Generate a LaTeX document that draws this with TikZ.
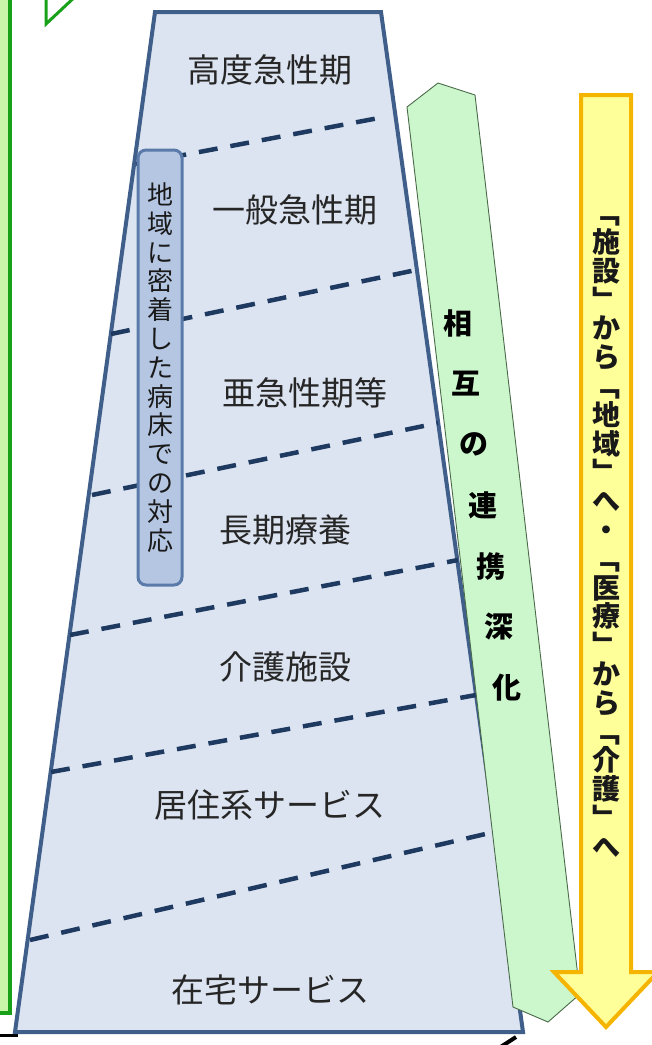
\documentclass[tikz,border=0pt]{standalone}
\usepackage{fontspec}
\setmainfont{Noto Sans CJK JP}
\definecolor{trapfill}{HTML}{DCE4F1}
\definecolor{trapline}{HTML}{3F5F8A}
\definecolor{navy}{HTML}{1F3A60}
\definecolor{rectfill}{HTML}{B4C6E2}
\definecolor{rectline}{HTML}{5A7BAA}
\definecolor{gfill}{HTML}{CCF7CC}
\definecolor{gline}{HTML}{4A6A4A}
\definecolor{yfill}{HTML}{FFFF99}
\definecolor{yline}{HTML}{F5B400}
\definecolor{lgreen}{HTML}{19A019}
\definecolor{lgfill}{HTML}{C8F5A8}
\begin{document}
\begin{tikzpicture}[x=1pt,y=-1pt,
  lvl/.style={font=\fontsize{33}{36}\selectfont, text=black!85, inner sep=0pt},
  sep/.style={draw=navy, line width=4.5pt, dash pattern=on 19pt off 13pt},
  vtext/.style={align=center, inner sep=0pt, text=black!90},
  gtext/.style={font=\bfseries\fontsize{29}{30}\selectfont, inner sep=0pt, text=black},
]
\useasboundingbox (0,0) rectangle (652,1045);
% left partial green box
\draw[lgreen, fill=lgfill, line width=3.5pt] (-10,-10) rectangle (10,1013);
% top green triangle fragment
\draw[lgreen, line width=3pt, line join=miter] (46,-6) -- (46,24) -- (78,-6);
% bottom black lines
\draw[black, line width=3pt] (0,1035) -- (18,1035);
\draw[black, line width=4pt] (499,1048) -- (516,1037);
% trapezoid
\coordinate (tl) at (155,12);
\coordinate (tr) at (381,12);
\coordinate (br) at (523,1032);
\coordinate (bl) at (15,1032);
\draw[trapline, fill=trapfill, line width=4pt, line join=miter] (tl) -- (tr) -- (br) -- (bl) -- cycle;
% dashed separators
\draw[sep] (136,164) -- (384,117);
\draw[sep] (111,334) -- (416,270);
\draw[sep] (92,495) -- (438,423);
\draw[sep] (70,635) -- (458,560);
\draw[sep] (51,772) -- (476,695);
\draw[sep] (30,940) -- (494,832);
% level labels
\node[lvl] (l1) at (270,70) {高度急性期};
\node[lvl] (l2) at (295,210) {一般急性期};
\node[lvl] (l3) at (305,393) {亜急性期等};
\node[lvl] (l4) at (285,530) {長期療養};
\node[lvl] (l5) at (285,667) {介護施設};
\node[lvl] (l6) at (270,805) {居住系サービス};
\node[lvl] (l7) at (270,990) {在宅サービス};
% community bed box
\node[draw=rectline, fill=rectfill, line width=3pt, rounded corners=8pt,
      minimum width=44pt, minimum height=435pt, inner sep=0pt] (bed) at (160,367.5) {};
\node[vtext, font=\fontsize{26}{28.8}\selectfont] (bedtxt) at (bed.center)
  {地\\域\\に\\密\\着\\し\\た\\病\\床\\で\\の\\対\\応};
% green slanted arrow
\draw[gline, fill=gfill, line width=0.9pt, line join=miter]
  (438,83) -- (475,95) -- (580,994) -- (548,1022) -- (513,1007) -- (407,107) -- cycle;
\foreach \c [count=\i from 0] in {相,互,の,連,携,深,化} {
  \pgfmathsetmacro\yy{323+\i*60.8}
  \pgfmathsetmacro\xx{458+0.135*(\yy-323)}
  \node[gtext] (g\i) at (\xx,\yy) {\c};
}
% yellow down arrow
\draw[yline, fill=yfill, line width=4pt, line join=miter]
  (581,95) -- (631,95) -- (631,972) -- (658,972) -- (606,1027) -- (554,972) -- (581,972) -- cycle;
\node[vtext, font=\bfseries\fontsize{28}{28.8}\selectfont] (ytxt) at (606,537)
  {﹁\\施\\設\\﹂\\か\\ら\\﹁\\地\\域\\﹂\\へ\\・\\﹁\\医\\療\\﹂\\か\\ら\\﹁\\介\\護\\﹂\\へ};
\end{tikzpicture}
\end{document}
